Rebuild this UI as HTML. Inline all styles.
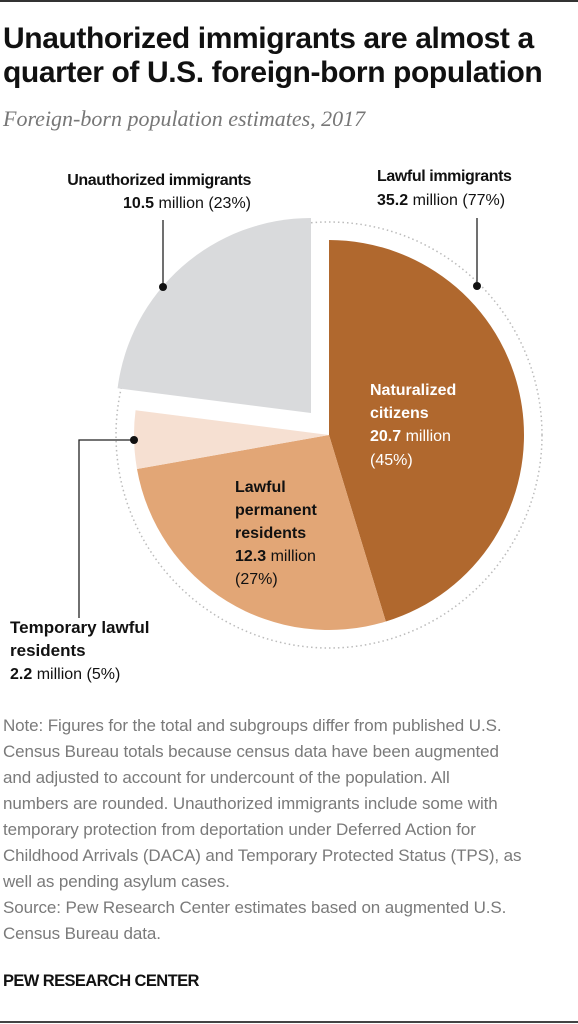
<!DOCTYPE html>
<html><head><meta charset="utf-8"><style>
body{margin:0;background:#fff;width:578px;height:1024px;overflow:hidden;position:relative;font-family:"Liberation Sans",sans-serif}
.abs{position:absolute}
#title{left:3px;top:22px;font-weight:bold;font-size:30px;line-height:34px;color:#111;letter-spacing:-0.4px;white-space:nowrap}
#sub{left:3px;top:106px;font-family:"Liberation Serif",serif;font-style:italic;font-size:22px;color:#777;white-space:nowrap}
#note{left:3px;top:713px;width:575px;font-size:17px;line-height:26px;color:#7a7a7a;letter-spacing:-0.1px;white-space:nowrap}
#pew{left:3px;top:972px;font-size:16.5px;font-weight:bold;color:#111;letter-spacing:-0.6px}
</style></head><body>
<div class="abs" style="left:0;top:0;width:578px;height:2px;background:#333"></div>
<div class="abs" id="title">Unauthorized immigrants are almost a<br>quarter of U.S. foreign-born population</div>
<div class="abs" id="sub">Foreign-born population estimates, 2017</div>
<svg class="abs" style="left:0;top:0" width="578" height="700" id="chart"></svg>
<div class="abs" id="note">Note: Figures for the total and subgroups differ from published U.S.<br>Census Bureau totals because census data have been augmented<br>and adjusted to account for undercount of the population. All<br>numbers are rounded. Unauthorized immigrants include some with<br>temporary protection from deportation under Deferred Action for<br>Childhood Arrivals (DACA) and Temporary Protected Status (TPS), as<br>well as pending asylum cases.<br>Source: Pew Research Center estimates based on augmented U.S.<br>Census Bureau data.</div>
<div class="abs" id="pew">PEW RESEARCH CENTER</div>
<div class="abs" style="left:0;top:1021px;width:578px;height:2px;background:#444"></div>
<script>
const categories=["Naturalized citizens","Lawful permanent residents","Temporary lawful residents","Unauthorized immigrants"];
const values=[20.7,12.3,2.2,10.5];
const percents=[45,27,5,23];
const colors=["#b0682e","#e2a676","#f6e0d2","#d9dadc"];
const NS="http://www.w3.org/2000/svg";
const svg=document.getElementById('chart');
const cx=329,cy=435,r=195;
const total=values.reduce((a,b)=>a+b,0);
function pt(x,y,rad,deg){const a=deg*Math.PI/180;return [x+rad*Math.sin(a),y-rad*Math.cos(a)];}
const ring=document.createElementNS(NS,'circle');


ring.setAttribute('cx',cx);ring.setAttribute('cy',cy);ring.setAttribute('r',213);
ring.setAttribute('fill','none');ring.setAttribute('stroke','#bbb');ring.setAttribute('stroke-width','1.5');ring.setAttribute('stroke-dasharray','1.5 3');
svg.appendChild(ring);
let acc=0;
values.forEach((v,i)=>{
  const a0=acc/total*360,a1=(acc+v)/total*360;acc+=v;
  let x=cx,y=cy;
  if(i===3){x=cx-18;y=cy-22;}
  const p0=pt(x,y,r,a0),p1=pt(x,y,r,a1);
  const large=(a1-a0)>180?1:0;
  const p=document.createElementNS(NS,'path');
  
  
  p.setAttribute('d',`M${x},${y}L${p0[0]},${p0[1]}A${r},${r} 0 ${large} 1 ${p1[0]},${p1[1]}Z`);
  p.setAttribute('fill',colors[i]);
  svg.appendChild(p);
});
function line(d,name){const p=document.createElementNS(NS,'path');


p.setAttribute('d',d);p.setAttribute('stroke','#222');p.setAttribute('stroke-width','1.3');p.setAttribute('fill','none');svg.appendChild(p);}
function dot(x,y,name){const c=document.createElementNS(NS,'circle');


c.setAttribute('cx',x);c.setAttribute('cy',y);c.setAttribute('r',4);c.setAttribute('fill','#111');svg.appendChild(c);}
line('M163,220V287','unauthorized-leader');dot(163,287,'unauthorized-dot');
line('M477,218V286','lawful-leader');dot(477,286,'lawful-dot');
line('M134,440H79V618','temporary-leader');dot(134,440,'temporary-dot');
function txt(x,y,html,anchor,fill,name){const t=document.createElementNS(NS,'text');


t.setAttribute('x',x);t.setAttribute('y',y);t.setAttribute('text-anchor',anchor||'start');t.setAttribute('fill',fill||'#111');
t.setAttribute('font-size','16');t.setAttribute('font-family','Liberation Sans, sans-serif');t.innerHTML=html;svg.appendChild(t);}
const B='font-weight="bold"';
txt(251,185,`<tspan ${B} letter-spacing="-0.4">Unauthorized immigrants</tspan>`,'end','#111','unauthorized-label');
txt(251,208,`<tspan ${B}>${values[3]}</tspan> million (${percents[3]}%)`,'end','#111','unauthorized-value');
txt(377,181,`<tspan ${B} letter-spacing="-0.4">Lawful immigrants</tspan>`,'start','#111','lawful-label');
txt(377,205,`<tspan ${B}>${(values[0]+values[1]+values[2]).toFixed(1)}</tspan> million (${percents[0]+percents[1]+percents[2]}%)`,'start','#111','lawful-value');
txt(370,395,`<tspan ${B}>Naturalized</tspan>`,'start','#fff','naturalized-label');
txt(370,418,`<tspan ${B}>citizens</tspan>`,'start','#fff','naturalized-label-2');
txt(370,441,`<tspan ${B}>${values[0]}</tspan> million`,'start','#fff','naturalized-value');
txt(370,465,`(${percents[0]}%)`,'start','#fff','naturalized-percent');
txt(235,492,`<tspan ${B}>Lawful</tspan>`,'start','#111','lpr-label');
txt(235,515,`<tspan ${B}>permanent</tspan>`,'start','#111','lpr-label-2');
txt(235,538,`<tspan ${B}>residents</tspan>`,'start','#111','lpr-label-3');
txt(235,561,`<tspan ${B}>${values[1]}</tspan> million`,'start','#111','lpr-value');
txt(235,584,`(${percents[1]}%)`,'start','#111','lpr-percent');
txt(10,633,`<tspan ${B} font-size="17">Temporary lawful</tspan>`,'start','#111','temporary-label');
txt(10,656,`<tspan ${B} font-size="17">residents</tspan>`,'start','#111','temporary-label-2');
txt(10,679,`<tspan ${B}>${values[2]}</tspan> million (${percents[2]}%)`,'start','#111','temporary-value');
</script>
</body></html>
